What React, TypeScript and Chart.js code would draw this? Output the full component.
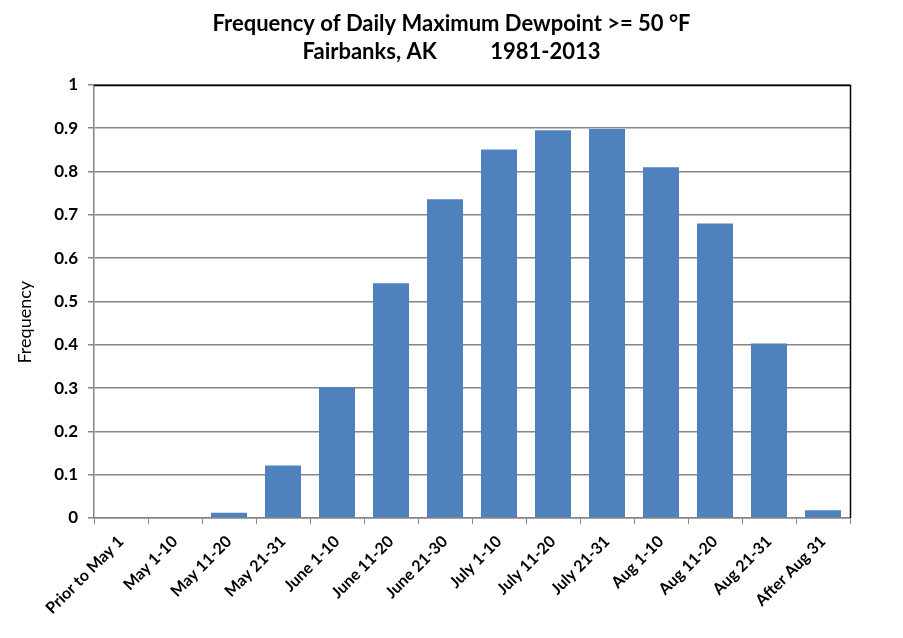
import React, { useEffect, useRef } from "react";
import { Chart, registerables } from "chart.js";

Chart.register(...registerables);

const categories = [
  "Prior to May 1",
  "May 1-10",
  "May 11-20",
  "May 21-31",
  "June 1-10",
  "June 11-20",
  "June 21-30",
  "July 1-10",
  "July 11-20",
  "July 21-31",
  "Aug 1-10",
  "Aug 11-20",
  "Aug 21-31",
  "After Aug 31",
];

const frequency = [0, 0, 0.012, 0.121, 0.302, 0.542, 0.736, 0.851, 0.895, 0.898, 0.81, 0.68, 0.403, 0.018];

const titleLines = ["Frequency of Daily Maximum Dewpoint >= 50 °F", "Fairbanks, AK          1981-2013"];
const yAxisTitle = "Frequency";

const FONT = "Lato, 'Open Sans', sans-serif";

const borderPlugin = {
  id: "plotBorder",
  afterDraw(chart: any) {
    const { ctx, chartArea } = chart;
    ctx.save();
    ctx.strokeStyle = "#000000";
    ctx.lineWidth = 1.5;
    ctx.beginPath();
    ctx.moveTo(chartArea.left, chartArea.top + 0.5);
    ctx.lineTo(chartArea.right + 0.5, chartArea.top + 0.5);
    ctx.lineTo(chartArea.right + 0.5, chartArea.bottom);
    ctx.stroke();
    // y-axis title, placed like the reference (slightly below centre)
    ctx.translate(25, chartArea.top + (chartArea.bottom - chartArea.top) * 0.548);
    ctx.rotate(-Math.PI / 2);
    ctx.fillStyle = "#000000";
    ctx.font = `18px ${FONT}`;
    ctx.textAlign = "center";
    ctx.textBaseline = "middle";
    ctx.fillText(yAxisTitle, 0, 0);
    ctx.restore();
  },
};

export default function App() {
  const ref = useRef<HTMLCanvasElement | null>(null);

  useEffect(() => {
    if (!ref.current) return;
    const chart = new Chart(ref.current, {
      type: "bar",
      data: {
        labels: categories,
        datasets: [
          {
            data: frequency,
            backgroundColor: "#4F81BD",
            borderWidth: 0,
            categoryPercentage: 1,
            barPercentage: 0.667,
            yAxisID: "y",
          },
        ],
      },
      options: {
        animation: false,
        responsive: false,
        maintainAspectRatio: false,
        layout: { padding: 0 },
        plugins: {
          legend: { display: false },
          tooltip: { enabled: false },
          title: {
            display: true,
            text: titleLines,
            color: "#000000",
            font: { family: FONT, size: 22, weight: "bold", lineHeight: 1.27 },
            padding: { top: 10, bottom: 19 },
          },
        },
        scales: {
          x: {
            grid: {
              display: true,
              offset: true,
              drawOnChartArea: false,
              drawTicks: true,
              tickLength: 6,
              color: "#868686",
            },
            border: { color: "#868686", width: 1.5 },
            ticks: {
              color: "#000000",
              font: { family: FONT, size: 16, weight: "bold" },
              maxRotation: 45,
              minRotation: 45,
              autoSkip: false,
              padding: 8,
            },
            afterFit(scale: any) {
              scale.height = 120;
            },
          },
          y: {
            position: "left",
            min: 0,
            max: 1,
            ticks: {
              stepSize: 0.1,
              color: "#000000",
              font: { family: FONT, size: 17, weight: "bold" },
              padding: 10,
              callback: (v: any) => String(Math.round(Number(v) * 10) / 10),
            },
            grid: {
              color: "#868686",
              lineWidth: 1.5,
              tickLength: 6,
            },
            border: { color: "#868686", width: 1.5 },
            title: { display: false },
            afterFit(scale: any) {
              scale.width = 94;
            },
          },
          yRight: {
            position: "right",
            display: true,
            min: 0,
            max: 1,
            ticks: { display: false },
            grid: { display: false, drawTicks: false },
            border: { display: false },
            afterFit(scale: any) {
              scale.width = 53;
            },
          },
        },
      },
      plugins: [borderPlugin],
    });
    return () => chart.destroy();
  }, []);

  return (
    <div style={{ position: "fixed", left: 0, top: 0, width: 903, height: 638, background: "#ffffff" }}>
      <canvas ref={ref} width={903} height={638} style={{ width: 903, height: 638, display: "block" }} />
    </div>
  );
}
